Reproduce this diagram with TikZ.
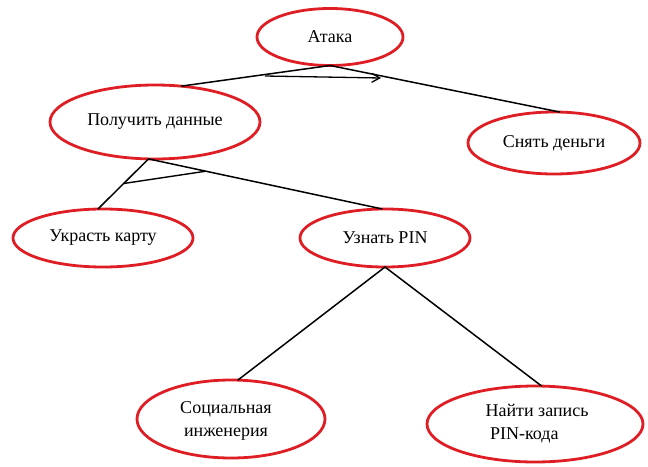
\documentclass[tikz,border=0pt]{standalone}
\usepackage{fontspec}
\setmainfont{Liberation Serif}
\usetikzlibrary{shapes.geometric,calc,arrows.meta}
\definecolor{ellred}{RGB}{222,30,36}
\tikzset{
  goal/.style={ellipse, draw=ellred, line width=2.8pt, inner sep=0pt, outer sep=0pt,
    font=\fontsize{18}{23}\selectfont, align=center},
  edge/.style={line width=1.5pt, black},
}
\begin{document}
\begin{tikzpicture}[x=1pt,y=-1pt]
\useasboundingbox (0,0) rectangle (648,466);
\node[goal, minimum width=146pt, minimum height=57pt] (atk) at (330,37) {Атака};
\node[goal, minimum width=210pt, minimum height=74pt] (pd) at (155,122) {Получить данные};
\node[goal, minimum width=172pt, minimum height=62pt] (sd) at (554,143) {Снять деньги};
\node[goal, minimum width=180pt, minimum height=58pt] (uk) at (103,238) {Украсть карту};
\node[goal, minimum width=170pt, minimum height=58pt] (up) at (385,238) {Узнать PIN};
\node[goal, minimum width=188pt, minimum height=78pt] (si) at (231,419) {};
\node[align=center, font=\fontsize{18}{23}\selectfont] (sit) at (226,421) {Социальная\\инженерия};
\node[goal, minimum width=216pt, minimum height=76pt] (np) at (535,424) {};
\node[align=left, font=\fontsize{18}{23}\selectfont] (npt) at (537,424) {Найти запись\\\ PIN-кода};
% edges
\draw[edge] (pd.54) -- (atk.south) -- (sd.79);
\draw[edge] (uk.100) -- (pd.260) -- (up.95);
\draw[edge] (si.80) -- (up.south) -- (np.80);
% AND bars
\draw[edge, line width=1.4pt] ($(pd.260)!0.49!(uk.100)$) -- ($(pd.260)!0.245!(up.95)$);
\coordinate (a1) at (265,76);
\coordinate (a2) at (381,78);
\draw[line width=1.3pt, -{Straight Barb[length=8pt,width=9pt]}] (a1) -- (a2);
\end{tikzpicture}
\end{document}
